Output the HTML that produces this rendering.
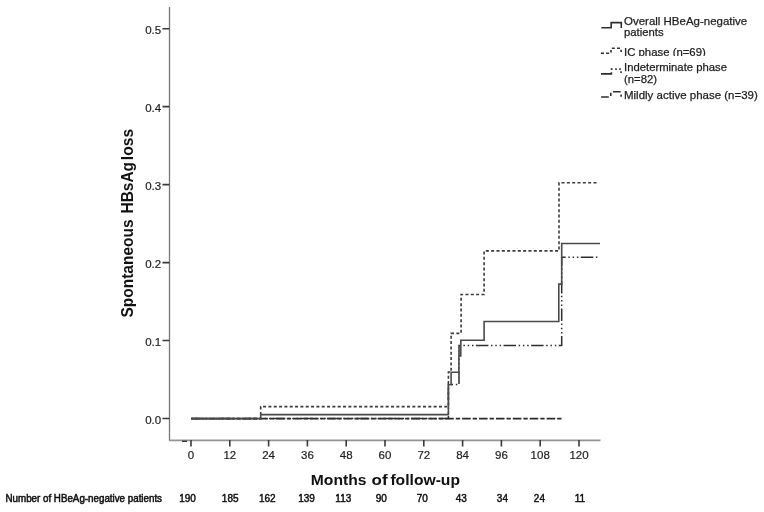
<!DOCTYPE html>
<html>
<head>
<meta charset="utf-8">
<style>
html,body{margin:0;padding:0;background:#fff;}
body{width:764px;height:512px;overflow:hidden;}
svg{display:block;filter:grayscale(1);}
text{font-family:"Liberation Sans",sans-serif;}
</style>
</head>
<body>
<svg width="764" height="512" viewBox="0 0 764 512">
<defs><clipPath id="clipIC"><rect x="620" y="40" width="140" height="16"/></clipPath></defs>
<rect width="764" height="512" fill="#fff"/>

<!-- axes -->
<g fill="none">
  <path d="M169.5,7 V440.3" stroke="#777" stroke-width="1.3"/>
  <path d="M168.9,440.3 H600.5" stroke="#939393" stroke-width="1.7"/>
</g>
<!-- y ticks -->
<g stroke="#3a3a3a" stroke-width="1.6" fill="none">
  <path d="M162.5,28.7 H169.5 M162.5,106.6 H169.5 M162.5,184.6 H169.5 M162.5,262.6 H169.5 M162.5,340.5 H169.5 M162.5,418.5 H169.5"/>
</g>
<!-- x ticks -->
<g stroke="#3a3a3a" stroke-width="1.6" fill="none">
  <path d="M191,440 V446.6 M229.8,440 V446.6 M268.6,440 V446.6 M307.4,440 V446.6 M346.2,440 V446.6 M385,440 V446.6 M423.8,440 V446.6 M462.6,440 V446.6 M501.4,440 V446.6 M540.2,440 V446.6 M579,440 V446.6"/>
  <path d="M182,441.3 H187" stroke-width="1.4"/>
</g>

<!-- y tick labels -->
<g font-size="11.5" fill="#1e1e1e" stroke="#1e1e1e" stroke-width="0.2" text-anchor="end">
  <text x="161.2" y="33.8">0.5</text>
  <text x="161.2" y="111.7">0.4</text>
  <text x="161.2" y="189.7">0.3</text>
  <text x="161.2" y="267.7">0.2</text>
  <text x="161.2" y="345.6">0.1</text>
  <text x="161.2" y="423.6">0.0</text>
</g>
<!-- x tick labels -->
<g font-size="11.5" fill="#1e1e1e" stroke="#1e1e1e" stroke-width="0.2" text-anchor="middle">
  <text x="191" y="458.8">0</text>
  <text x="229.8" y="458.8">12</text>
  <text x="268.6" y="458.8">24</text>
  <text x="307.4" y="458.8">36</text>
  <text x="346.2" y="458.8">48</text>
  <text x="385" y="458.8">60</text>
  <text x="423.8" y="458.8">72</text>
  <text x="462.6" y="458.8">84</text>
  <text x="501.4" y="458.8">96</text>
  <text x="540.2" y="458.8">108</text>
  <text x="579" y="458.8">120</text>
</g>

<!-- axis titles -->
<g font-size="15" font-weight="bold" fill="#111">
  <text x="310.8" y="484.8" textLength="55.6" lengthAdjust="spacingAndGlyphs">Months</text>
  <text x="371.6" y="484.8" textLength="16" lengthAdjust="spacingAndGlyphs">of</text>
  <text x="390.4" y="484.8" textLength="69.6" lengthAdjust="spacingAndGlyphs">follow-up</text>
</g>
<g transform="translate(133,317.5) rotate(-90)" font-size="16" font-weight="bold" fill="#111">
  <text x="0" y="0" textLength="98" lengthAdjust="spacingAndGlyphs">Spontaneous</text>
  <text x="104" y="0" textLength="51.5" lengthAdjust="spacingAndGlyphs">HBsAg</text>
  <text x="157.3" y="0" textLength="31.3" lengthAdjust="spacingAndGlyphs">loss</text>
</g>

<!-- number at risk -->
<g font-size="10" fill="#111" stroke="#111" stroke-width="0.5">
  <text x="5.5" y="501.7" textLength="156.5" lengthAdjust="spacingAndGlyphs">Number of HBeAg-negative patients</text>
</g>
<g font-size="10" fill="#111" stroke="#111" stroke-width="0.45" text-anchor="middle">
  <text x="187.5" y="501.7">190</text>
  <text x="230.2" y="501.7">185</text>
  <text x="267.3" y="501.7">162</text>
  <text x="306.6" y="501.7">139</text>
  <text x="343.3" y="501.7">113</text>
  <text x="381.3" y="501.7">90</text>
  <text x="422.2" y="501.7">70</text>
  <text x="461.3" y="501.7">43</text>
  <text x="502.4" y="501.7">34</text>
  <text x="539.4" y="501.7">24</text>
  <text x="580" y="501.7">11</text>
</g>

<!-- curves -->
<g fill="none" stroke-linejoin="miter">
  <!-- Mildly active: long dash -->
  <path d="M191,418.6 H562.4" stroke="#2a2a2a" stroke-width="1.7" stroke-dasharray="8.6,2,4.3,2" stroke-dashoffset="-0.7"/>
  <!-- Indeterminate: dash-dot-dot-dot -->
  <path d="M191,418.6 H448.4 V384.6 H459 V345.6 H561.7 V257.3 H600" stroke="#2e2e2e" stroke-width="1.5" stroke-dasharray="12.5,2.6,1.5,2.8,1.5,2.8,1.5,2.4" stroke-dashoffset="0.9"/>
  <!-- IC: short dash -->
  <path d="M191,418.6 H260.7 V406.6 H448.4 V372 H451.1 V333.4 H461.1 V294.5 H484.1 V250.9 H559 V182.7 H598.3" stroke="#3a3a3a" stroke-width="1.6" stroke-dasharray="3,2.33" stroke-dashoffset="1.2"/>
  <!-- Overall: solid -->
  <path d="M191,418.6 H260.7 V414.6 H448.4 V384.8 H451.1 V372.2 H458.9 V356 H460.8 V340.3 H484.1 V321.5 H558.8 V284.1 H561.7 V243.5 H600" stroke="#4a4a4a" stroke-width="1.6"/>
</g>

<!-- legend -->
<g fill="none" stroke="#2e2e2e" stroke-width="1.6">
  <path d="M601.3,27.7 H611.2 V22.6 H621.3 V27.9"/>
  <path d="M600.9,53.3 H611 V48.2 H621.1 V52" stroke-dasharray="3.1,2.1,3.1,2.7,2.3,2.8,2.9,2.2,3.0,2.6,2.2,20"/>
  <path d="M601,73.9 H611.4 V69.1 H621 V73" stroke-dasharray="12,2.6,1.7,2.7,1.6,2.4,1.6,2.4,1.7,20"/>
  <path d="M601.1,97 H610.8 V91.8 H621.1 V97" stroke-dasharray="7.7,3.1,3.1,3.2,7.7,3.0,2.4,20"/>
</g>
<g font-size="11.3" fill="#1e1e1e" stroke="#1e1e1e" stroke-width="0.25">
  <text x="624" y="24.9" textLength="123.2" lengthAdjust="spacingAndGlyphs">Overall HBeAg-negative</text>
  <text x="624" y="35.6">patients</text>
  <text clip-path="url(#clipIC)" x="624" y="55.7" textLength="81.8" lengthAdjust="spacingAndGlyphs">IC phase (n=69)</text>
  <text x="624" y="70.9" textLength="103" lengthAdjust="spacingAndGlyphs">Indeterminate phase</text>
  <text x="624" y="82.8">(n=82)</text>
  <text x="624" y="99.1" textLength="133.8" lengthAdjust="spacingAndGlyphs">Mildly active phase (n=39)</text>
</g>
</svg>
</body>
</html>
